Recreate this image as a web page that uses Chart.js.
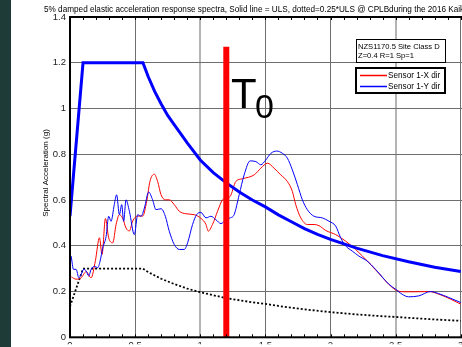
<!DOCTYPE html>
<html>
<head>
<meta charset="utf-8">
<script src="https://cdn.jsdelivr.net/npm/chart.js@4"></script>
<style>
  html, body { margin: 0; padding: 0; background: #fff; }
  #frame { position: relative; width: 462px; height: 347px; overflow: hidden; }
  #strip { position: absolute; left: 0; top: 0; width: 11px; height: 347px; background: #1f3b38; }
  #wrap { position: absolute; left: 0; top: 0; width: 593px; height: 347px; }
</style>
</head>
<body>
<div id="frame">
  <div id="wrap"><canvas id="myChart" width="593" height="347"></canvas></div>
  <div id="strip"></div>
</div>
<script>
// periods (s) and spectral accelerations (g)
const ulsPeriods = [0, 0.1, 0.56, 0.6, 0.65, 0.7, 0.75, 0.8, 0.9, 1.0, 1.1, 1.2, 1.3, 1.4, 1.5, 1.6, 1.7, 1.8, 1.9, 2.0, 2.2, 2.4, 2.6, 2.8, 3.0];
const ulsValues  = [0.53, 1.2, 1.2, 1.14, 1.075, 1.02, 0.97, 0.93, 0.85, 0.775, 0.72, 0.675, 0.635, 0.60, 0.57, 0.535, 0.505, 0.475, 0.45, 0.428, 0.39, 0.357, 0.33, 0.306, 0.288];

const quarterPeriods = [0, 0.1, 0.56, 0.6, 0.7, 0.8, 0.9, 1.0, 1.2, 1.4, 1.5, 1.6, 1.8, 2.0, 2.2, 2.4, 2.5, 2.6, 2.8, 3.0];
const quarterValues  = [0.135, 0.3, 0.3, 0.285, 0.256, 0.233, 0.213, 0.197, 0.171, 0.153, 0.146, 0.137, 0.122, 0.11, 0.1, 0.092, 0.089, 0.085, 0.078, 0.072];

const xDirPeriods = [0.01, 0.047, 0.086, 0.124, 0.162, 0.195, 0.226, 0.246, 0.272, 0.297, 0.328, 0.354, 0.379, 0.405, 0.43, 0.456, 0.481, 0.52, 0.558, 0.589, 0.614, 0.647, 0.673, 0.699, 0.732, 0.762, 0.80, 0.839, 0.89, 0.954, 1.005, 1.044, 1.061, 1.094, 1.133, 1.171, 1.207, 1.23, 1.273, 1.324, 1.414, 1.465, 1.516, 1.567, 1.618, 1.669, 1.707, 1.733, 1.772, 1.822, 1.874, 1.912, 1.963, 2.04, 2.117, 2.193, 2.295, 2.372, 2.435, 2.5, 2.563, 2.653, 2.755, 2.844, 2.921, 3.0];
const xDirValues  = [0.264, 0.254, 0.26, 0.287, 0.26, 0.335, 0.435, 0.362, 0.519, 0.435, 0.413, 0.493, 0.536, 0.52, 0.478, 0.465, 0.508, 0.53, 0.53, 0.595, 0.682, 0.713, 0.681, 0.623, 0.601, 0.601, 0.58, 0.551, 0.54, 0.536, 0.52, 0.493, 0.464, 0.493, 0.551, 0.601, 0.61, 0.616, 0.681, 0.693, 0.71, 0.739, 0.761, 0.739, 0.71, 0.681, 0.638, 0.58, 0.522, 0.493, 0.493, 0.488, 0.467, 0.449, 0.42, 0.384, 0.326, 0.279, 0.239, 0.207, 0.199, 0.199, 0.2, 0.186, 0.167, 0.145];

const yDirPeriods = [0.009, 0.027, 0.047, 0.068, 0.086, 0.104, 0.124, 0.144, 0.162, 0.188, 0.213, 0.231, 0.251, 0.277, 0.297, 0.315, 0.34, 0.358, 0.379, 0.397, 0.412, 0.43, 0.456, 0.494, 0.52, 0.545, 0.571, 0.604, 0.634, 0.66, 0.699, 0.732, 0.762, 0.80, 0.839, 0.877, 0.903, 0.941, 0.972, 1.005, 1.044, 1.082, 1.12, 1.159, 1.197, 1.23, 1.26, 1.299, 1.337, 1.383, 1.427, 1.465, 1.503, 1.542, 1.588, 1.631, 1.669, 1.707, 1.746, 1.784, 1.822, 1.874, 1.937, 1.989, 2.04, 2.078, 2.117, 2.167, 2.218, 2.282, 2.346, 2.448, 2.5, 2.55, 2.6, 2.678, 2.768, 2.83, 2.908, 3.0];
const yDirValues  = [0.355, 0.297, 0.297, 0.26, 0.275, 0.297, 0.29, 0.268, 0.297, 0.31, 0.304, 0.333, 0.39, 0.44, 0.529, 0.507, 0.58, 0.623, 0.536, 0.58, 0.507, 0.601, 0.551, 0.449, 0.536, 0.529, 0.565, 0.635, 0.601, 0.558, 0.562, 0.529, 0.464, 0.406, 0.384, 0.384, 0.413, 0.493, 0.536, 0.546, 0.522, 0.529, 0.514, 0.497, 0.514, 0.522, 0.536, 0.623, 0.71, 0.771, 0.768, 0.754, 0.775, 0.804, 0.814, 0.804, 0.783, 0.732, 0.667, 0.601, 0.558, 0.529, 0.522, 0.507, 0.486, 0.435, 0.399, 0.377, 0.355, 0.333, 0.297, 0.232, 0.21, 0.188, 0.177, 0.181, 0.2, 0.191, 0.174, 0.152];

const t0Period = 1.2;
const t0Top = 1.27;

const titleText = '5% damped elastic acceleration response spectra, Solid line = ULS, dotted=0.25*ULS @ CPLBduring the 2016 Kaikoura earthquake';
const yTitle = 'Spectral Acceleration (g)';
const noteLines = ['NZS1170.5 Site Class D', 'Z=0.4 R=1 Sp=1'];
const legendLabels = ['Sensor 1-X dir', 'Sensor 1-Y dir'];
const RED = '#ff0000';
const BLUE = '#0000ff';

const FONT = '"Liberation Sans", Arial, Helvetica, sans-serif';

function pairs(xs, ys) {
    return xs.map((x, i) => ({ x: x, y: ys[i] }));
}

function fmt(v) {
    return String(Math.round(v * 10) / 10);
}

const decorations = {
    id: 'decorations',
    afterDatasetsDraw(chart) {
        const ctx = chart.ctx;
        const a = chart.chartArea;
        const xs = chart.scales.x;
        ctx.save();

        // inward minor ticks
        ctx.strokeStyle = '#000';
        ctx.lineWidth = 1;
        ctx.beginPath();
        for (let i = 0; i <= 40; i++) {
            const px = Math.round(xs.getPixelForValue(i / 10)) + 0.5;
            ctx.moveTo(px, a.bottom);
            ctx.lineTo(px, a.bottom - 3);
            ctx.moveTo(px, a.top);
            ctx.lineTo(px, a.top + 3);
        }
        ctx.stroke();

        // frame
        ctx.lineWidth = 2;
        ctx.strokeRect(a.left, a.top, a.right - a.left, a.bottom - a.top);

        // note box
        ctx.fillStyle = '#fff';
        ctx.fillRect(356, 39, 89, 23);
        ctx.lineWidth = 1;
        ctx.strokeStyle = '#000';
        ctx.strokeRect(356.5, 39.5, 89, 23);
        ctx.fillStyle = '#000';
        ctx.font = '7.6px ' + FONT;
        ctx.textBaseline = 'alphabetic';
        ctx.textAlign = 'left';
        ctx.fillText(noteLines[0], 358, 48.5);
        ctx.fillText(noteLines[1], 358, 57.5);

        // legend box
        ctx.fillStyle = '#fff';
        ctx.fillRect(356, 68, 89, 25);
        ctx.lineWidth = 2;
        ctx.strokeStyle = '#000';
        ctx.strokeRect(356, 68, 89, 25);
        const colors = [RED, BLUE];
        ctx.font = '8.2px ' + FONT;
        [75, 86].forEach((yy, i) => {
            ctx.fillStyle = colors[i];
            ctx.fillRect(360, yy - 0.25, 27, 1.5);
            ctx.fillStyle = '#000';
            ctx.fillText(legendLabels[i], 388, yy + 3);
        });

        // title
        ctx.font = '8.2px ' + FONT;
        ctx.fillText(titleText, 44, 11.5);

        // y axis title
        ctx.save();
        ctx.translate(48, 173);
        ctx.rotate(-Math.PI / 2);
        ctx.textAlign = 'center';
        ctx.font = '8px ' + FONT;
        ctx.fillText(yTitle, 0, 0);
        ctx.restore();

        // T0 label
        ctx.fillStyle = '#000';
        ctx.font = '42px ' + FONT;
        ctx.fillText('T', 231, 108);
        ctx.font = '34px ' + FONT;
        ctx.fillText('0', 255, 118);

        ctx.restore();
    }
};

const lightX = [1, 2.5];

const config = {
    type: 'scatter',
    data: {
        datasets: [
            {
                label: 'T0',
                data: [{ x: t0Period, y: 0 }, { x: t0Period, y: t0Top }],
                showLine: true,
                borderColor: RED,
                borderWidth: 6,
                pointRadius: 0,
                order: 0
            }, {
                label: legendLabels[0],
                data: pairs(xDirPeriods, xDirValues),
                showLine: true,
                borderColor: RED,
                borderWidth: 1,
                pointRadius: 0,
                cubicInterpolationMode: 'monotone',
                order: 3
            }, {
                label: legendLabels[1],
                data: pairs(yDirPeriods, yDirValues),
                showLine: true,
                borderColor: BLUE,
                borderWidth: 1,
                pointRadius: 0,
                cubicInterpolationMode: 'monotone',
                order: 2
            }, {
                label: 'ULS',
                data: pairs(ulsPeriods, ulsValues),
                showLine: true,
                borderColor: BLUE,
                borderWidth: 3,
                pointRadius: 0,
                order: 1
            }, {
                label: '0.25*ULS',
                data: pairs(quarterPeriods, quarterValues),
                showLine: true,
                borderColor: '#000000',
                borderWidth: 1.8,
                borderDash: [2, 2],
                pointRadius: 0,
                order: 4
            }
        ]
    },
    options: {
        responsive: false,
        animation: false,
        devicePixelRatio: 1,
        layout: { padding: { top: 17, left: 0, right: 0, bottom: 0 } },
        plugins: {
            legend: { display: false },
            tooltip: { enabled: false }
        },
        scales: {
            x: {
                type: 'linear',
                min: 0,
                max: 4,
                ticks: {
                    stepSize: 0.5,
                    padding: 2,
                    color: '#222',
                    font: { family: FONT, size: 9.5 },
                    callback: v => (v > 3.01 ? '' : fmt(v))
                },
                grid: {
                    drawTicks: false,
                    color: c => (lightX.some(v => Math.abs(c.tick.value - v) < 1e-6) ? '#b4b4b4' : '#6e6e6e'),
                    lineWidth: c => (lightX.some(v => Math.abs(c.tick.value - v) < 1e-6) ? 2 : 1)
                },
                border: { display: false },
                afterFit: s => { s.height = 7; }
            },
            y: {
                min: 0,
                max: 1.4,
                ticks: {
                    stepSize: 0.2,
                    padding: 4,
                    color: '#222',
                    font: { family: FONT, size: 9.5 },
                    callback: v => fmt(v)
                },
                grid: { drawTicks: false, color: '#6e6e6e', lineWidth: 1 },
                border: { display: false },
                afterFit: s => { s.width = 70; }
            }
        }
    },
    plugins: [decorations]
};

window.visibleChart = new Chart(document.getElementById('myChart'), config);
</script>
</body>
</html>
